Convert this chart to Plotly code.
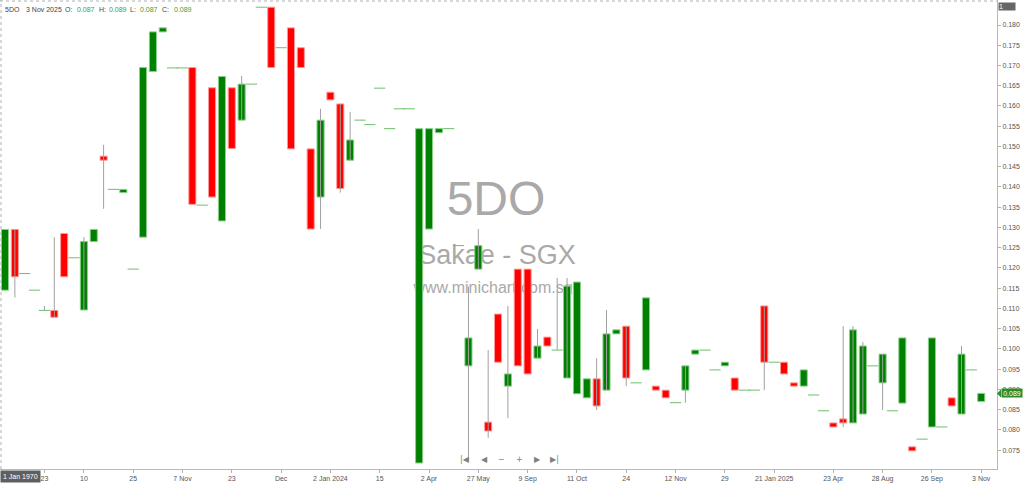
import plotly.graph_objects as go

# ---------------- data ----------------
opens = [0.1145, 0.1295, 0.1186, 0.1145, 0.1095, 0.1095, 0.1285, 0.1225, 0.1096, 0.1265,
         0.1476, 0.1394, 0.1386, 0.1197, 0.1276, 0.1685, 0.1783, 0.1694, 0.1694, 0.1695,
         0.1355, 0.1645, 0.1316, 0.1645, 0.1565, 0.1654, 0.1844, 0.1844, 0.1744, 0.1793,
         0.1744, 0.1494, 0.1375, 0.1634, 0.1605, 0.1466, 0.1565, 0.1554, 0.1644, 0.1544,
         0.1593, 0.1593, 0.0718, 0.1296, 0.1534, 0.1544, 0.1255, 0.0958, 0.1197, 0.0819,
         0.1086, 0.0908, 0.1197, 0.1197, 0.0977, 0.1029, 0.0997, 0.0928, 0.0889, 0.0879,
         0.0926, 0.0898, 0.1037, 0.1056, 0.0916, 0.0948, 0.0908, 0.0898, 0.0867, 0.0898,
         0.0987, 0.0997, 0.0948, 0.0958, 0.0928, 0.0898, 0.0898, 0.1106, 0.0967, 0.0967,
         0.0916, 0.0908, 0.0886, 0.0847, 0.0817, 0.0827, 0.0817, 0.0839, 0.0958, 0.0916,
         0.0847, 0.0866, 0.0758, 0.0777, 0.0807, 0.0807, 0.0879, 0.0839, 0.0948, 0.0870]
highs = [0.1295, 0.1295, 0.1186, 0.1145, 0.1106, 0.1276, 0.1285, 0.1225, 0.1276, 0.1295,
         0.1504, 0.1394, 0.1394, 0.1197, 0.1695, 0.1783, 0.1793, 0.1694, 0.1694, 0.1695,
         0.1355, 0.1645, 0.1673, 0.1645, 0.1674, 0.1654, 0.1844, 0.1844, 0.1744, 0.1793,
         0.1744, 0.1494, 0.1593, 0.1634, 0.1605, 0.1585, 0.1565, 0.1554, 0.1644, 0.1544,
         0.1593, 0.1593, 0.1544, 0.1544, 0.1544, 0.1544, 0.1255, 0.1154, 0.1296, 0.0997,
         0.1086, 0.1106, 0.1197, 0.1197, 0.1049, 0.1029, 0.1175, 0.1175, 0.1165, 0.0926,
         0.0977, 0.1096, 0.1047, 0.1056, 0.0916, 0.1126, 0.0908, 0.0898, 0.0867, 0.0958,
         0.0997, 0.0997, 0.0948, 0.0967, 0.0928, 0.0898, 0.0898, 0.1106, 0.0967, 0.0967,
         0.0916, 0.0948, 0.0886, 0.0847, 0.0817, 0.1056, 0.1056, 0.1017, 0.0958, 0.0987,
         0.0847, 0.1027, 0.0758, 0.0777, 0.1027, 0.0807, 0.0879, 0.1007, 0.0948, 0.0890]
lows = [0.1145, 0.1127, 0.1186, 0.1145, 0.1095, 0.1078, 0.1178, 0.1225, 0.1096, 0.1265,
        0.1346, 0.1394, 0.1386, 0.1197, 0.1276, 0.1685, 0.1783, 0.1694, 0.1694, 0.1357,
        0.1355, 0.1375, 0.1316, 0.1495, 0.1565, 0.1654, 0.1844, 0.1695, 0.1744, 0.1494,
        0.1695, 0.1296, 0.1296, 0.1615, 0.1386, 0.1466, 0.1565, 0.1554, 0.1644, 0.1544,
        0.1593, 0.1593, 0.0718, 0.1296, 0.1534, 0.1544, 0.1255, 0.0725, 0.1197, 0.0780,
        0.0967, 0.0829, 0.0958, 0.0938, 0.0977, 0.1007, 0.0997, 0.0928, 0.0889, 0.0879,
        0.0849, 0.0898, 0.1037, 0.0908, 0.0916, 0.0948, 0.0898, 0.0879, 0.0867, 0.0867,
        0.0987, 0.0997, 0.0948, 0.0958, 0.0898, 0.0898, 0.0898, 0.0898, 0.0967, 0.0938,
        0.0908, 0.0908, 0.0886, 0.0847, 0.0807, 0.0807, 0.0817, 0.0839, 0.0958, 0.0849,
        0.0847, 0.0866, 0.0748, 0.0777, 0.0807, 0.0807, 0.0859, 0.0839, 0.0948, 0.0870]
closes = [0.1295, 0.1178, 0.1186, 0.1145, 0.1095, 0.1078, 0.1178, 0.1225, 0.1265, 0.1295,
          0.1466, 0.1394, 0.1394, 0.1197, 0.1695, 0.1783, 0.1793, 0.1694, 0.1694, 0.1357,
          0.1355, 0.1375, 0.1673, 0.1495, 0.1654, 0.1654, 0.1844, 0.1695, 0.1744, 0.1494,
          0.1695, 0.1296, 0.1565, 0.1615, 0.1396, 0.1516, 0.1565, 0.1554, 0.1644, 0.1544,
          0.1593, 0.1593, 0.1544, 0.1544, 0.1544, 0.1544, 0.1255, 0.1027, 0.1255, 0.0797,
          0.0967, 0.0938, 0.0958, 0.0938, 0.1007, 0.1007, 0.0997, 0.1155, 0.1165, 0.0926,
          0.0859, 0.1037, 0.1047, 0.0928, 0.0916, 0.1126, 0.0898, 0.0879, 0.0867, 0.0958,
          0.0997, 0.0997, 0.0948, 0.0967, 0.0898, 0.0898, 0.0898, 0.0967, 0.0967, 0.0938,
          0.0908, 0.0948, 0.0886, 0.0847, 0.0807, 0.0817, 0.1047, 0.1007, 0.0958, 0.0987,
          0.0847, 0.1027, 0.0748, 0.0777, 0.1027, 0.0807, 0.0859, 0.0987, 0.0948, 0.0890]

tick_idx = [4, 8, 13, 18, 23, 28, 33, 38, 43, 48, 53, 58, 63, 68, 73, 78, 84, 89, 94, 99]
tick_labels = ["23", "10", "25", "7 Nov", "23", "Dec", "2 Jan 2024", "15", "2 Apr", "27 May",
               "9 Sep", "11 Oct", "24", "12 Nov", "29", "21 Jan 2025", "23 Apr", "28 Aug",
               "26 Sep", "3 Nov"]
price_ticks = [0.075, 0.080, 0.085, 0.090, 0.095, 0.100, 0.105, 0.110, 0.115, 0.120, 0.125,
               0.130, 0.135, 0.140, 0.145, 0.150, 0.155, 0.160, 0.165, 0.170, 0.175, 0.180]
price_labels = ["%.3f" % v for v in price_ticks]

symbol = "5DO"
last_date = "3 Nov 2025"
last_ohlc = [("O:", "0.087"), ("H:", "0.089"), ("L:", "0.087"), ("C:", "0.089")]
last_close = 0.089

# ---------------- geometry helpers ----------------
XR = [-0.507, 100.6]
YR = [0.07032, 0.18618]
PW, PH = 997.0, 469.0


def xd(px):  # pixel -> data x
    return XR[0] + px / PW * (XR[1] - XR[0])


def yd(py):  # pixel -> data y
    return YR[1] - py / PH * (YR[1] - YR[0])


def xp(px):
    return px / PW


def yp(py):
    return 1 - py / PH


idx = list(range(len(opens)))
up = [i for i in idx if closes[i] > opens[i]]
dn = [i for i in idx if closes[i] < opens[i]]
dj = [i for i in idx if closes[i] == opens[i]]

fig = go.Figure()

# watermark (under the candles)
wm_font = "Liberation Sans, Arial, sans-serif"
fig.add_trace(go.Scatter(x=[xd(496), xd(497), xd(493)], y=[yd(203), yd(257), yd(289)],
                         mode="text", text=["5DO", "Sakae - SGX", "www.minichart.com.sg"],
                         textfont=dict(size=[48, 27, 16], color="#a9a9a9", family=wm_font),
                         hoverinfo="skip", xaxis="x", yaxis="y"))

# wicks
wx, wy = [], []
for i in idx:
    if highs[i] > max(opens[i], closes[i]) or lows[i] < min(opens[i], closes[i]):
        wx += [i, i, None]
        wy += [lows[i], highs[i], None]
fig.add_trace(go.Scatter(x=wx, y=wy, mode="lines", line=dict(color="#a0a0a0", width=1),
                         hoverinfo="skip", xaxis="x2", yaxis="y2"))

# bodies
fig.add_trace(go.Bar(x=up, y=[closes[i] - opens[i] for i in up], base=[opens[i] for i in up],
                     width=0.72, marker=dict(color="#008000", line=dict(color="#8ccf8c", width=1)),
                     xaxis="x2", yaxis="y2"))
fig.add_trace(go.Bar(x=dn, y=[opens[i] - closes[i] for i in dn], base=[closes[i] for i in dn],
                     width=0.72, marker=dict(color="#ff0000", line=dict(color="#ff9a9a", width=1)),
                     xaxis="x2", yaxis="y2"))
# doji
fig.add_trace(go.Scatter(x=dj, y=[closes[i] for i in dj], mode="markers",
                         marker=dict(symbol="line-ew", size=8, line=dict(color="#6cbf6c", width=1)),
                         xaxis="x2", yaxis="y2"))

axis_font = dict(size=7, color="#555555", family=wm_font)
fig.update_layout(
    width=1024, height=484,
    margin=dict(l=0, r=27, t=0, b=15),
    paper_bgcolor="white", plot_bgcolor="white",
    showlegend=False, barmode="overlay",
    font=dict(family=wm_font, size=7, color="#555555"),
    xaxis=dict(range=XR, tickmode="array", tickvals=tick_idx, ticktext=tick_labels,
               ticks="outside", ticklen=3, tickcolor="#b0b0b0", showline=True, linecolor="#b8b8b8",
               linewidth=1, showgrid=False, zeroline=False, tickfont=axis_font, automargin=False,
               fixedrange=True),
    yaxis=dict(range=YR, side="right", tickmode="array", tickvals=price_ticks, ticktext=price_labels,
               ticks="outside", ticklen=3, tickcolor="#b0b0b0", showline=True, linecolor="#b8b8b8",
               linewidth=1, showgrid=False, zeroline=False, tickfont=axis_font, automargin=False,
               fixedrange=True),
    xaxis2=dict(range=XR, overlaying="x", visible=False, fixedrange=True),
    yaxis2=dict(range=YR, overlaying="y", visible=False, fixedrange=True),
)

ann = []
# header
hdr_items = [(3, symbol, "#444444"), (24, last_date, "#444444")]
hx = [63, 75, 97, 107, 128, 138, 160, 172]
k = 0
for lab, val in last_ohlc:
    hdr_items.append((hx[k], lab, "#444444"))
    hdr_items.append((hx[k + 1], val, "#3a9e3a"))
    k += 2
for x0, t, c in hdr_items:
    ann.append(dict(xref="paper", yref="paper", x=xp(x0), y=yp(10), xanchor="left", yanchor="middle",
                    text=t, showarrow=False, font=dict(size=7, color=c, family=wm_font)))

# top-right box "1"
ann.append(dict(xref="paper", yref="paper", x=1.0, y=yp(1.5), xanchor="left", yanchor="top",
                text="1", showarrow=False, bgcolor="#666666", width=16, height=7, align="left",
                borderpad=0, xshift=1, font=dict(size=7, color="white", family=wm_font)))
# last price tag
ann.append(dict(xref="paper", yref="y", x=1.0, y=last_close, xanchor="left", yanchor="middle",
                text="%.3f" % last_close, showarrow=False, bgcolor="#2e8b2e", borderpad=0, xshift=4,
                width=20, height=8, font=dict(size=7, color="white", family=wm_font)))
# crosshair date box
ann.append(dict(xref="paper", yref="paper", x=0.0, y=yp(470), xanchor="left", yanchor="top",
                text="1 Jan 1970", showarrow=False, bgcolor="#5f5f5f", borderpad=2,
                font=dict(size=7, color="white", family=wm_font)))
# navigation buttons
for x0, t in [(465, "|◀"), (484, "◀"), (501, "−"), (519, "+"), (537, "▶"), (554, "▶|")]:
    ann.append(dict(xref="paper", yref="paper", x=xp(x0), y=yp(459), xanchor="center", yanchor="middle",
                    text=t, showarrow=False, font=dict(size=8, color="#808080", family="DejaVu Sans")))
fig.update_layout(annotations=ann)

shapes = [
    dict(type="line", xref="paper", yref="paper", x0=0, x1=1, y0=yp(1), y1=yp(1),
         line=dict(color="#b0b0b0", width=1, dash="dot")),
    dict(type="line", xref="paper", yref="paper", x0=xp(1), x1=xp(1), y0=0, y1=1,
         line=dict(color="#b0b0b0", width=1, dash="dot")),
    dict(type="path", xref="paper", yref="y",
         path="M %f,%f L %f,%f L %f,%f Z" % (1.0, last_close, xp(1001), last_close + 4 * (YR[1] - YR[0]) / PH,
                                            xp(1001), last_close - 4 * (YR[1] - YR[0]) / PH),
         fillcolor="#2e8b2e", line=dict(width=0)),
]
fig.update_layout(shapes=shapes)

fig.write_html("out.html", config={"displayModeBar": False},
               post_script="document.body.style.margin='0';")
